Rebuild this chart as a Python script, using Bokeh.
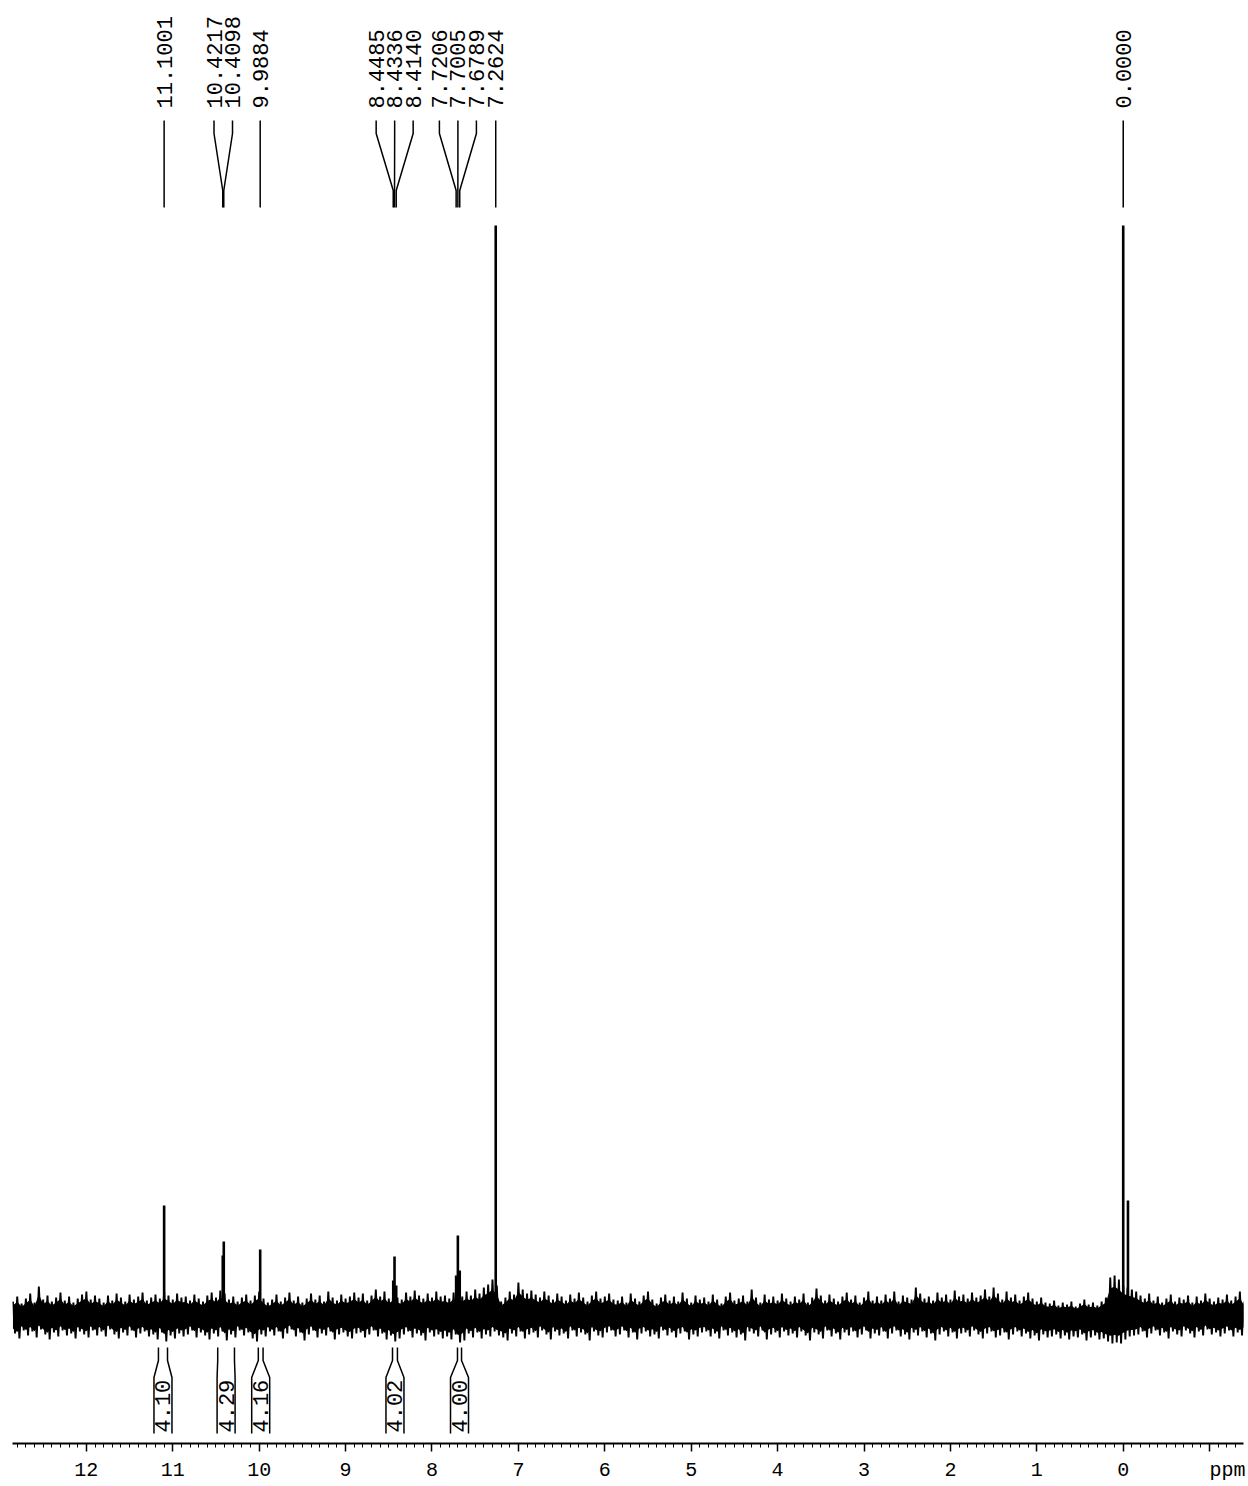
import numpy as np
from bokeh.plotting import figure
from bokeh.models import Range1d, SingleIntervalTicker
from bokeh.core.properties import value
from bokeh.embed import file_html
from bokeh.resources import INLINE

# ---- 1H NMR data (chemical shift in ppm, intensity in arbitrary units) ----
peak_ppm = [11.1001, 10.4217, 10.4098, 9.9884, 8.4485, 8.4336, 8.4140,
            7.7206, 7.7005, 7.6789, 7.2624, 0.0000]
peak_height = [110, 60, 74, 66, 35, 59, 30, 40, 80, 45, 1090, 1090]

# unlabelled shoulder on the TMS line
shoulder_ppm = [-0.055]
shoulder_height = [115]

# integrated regions (ppm limits) and their integrals
integral_from = [11.166, 10.480, 10.010, 8.457, 7.705]
integral_to = [11.061, 10.286, 9.955, 8.400, 7.658]
integral_value = [4.10, 4.29, 4.16, 4.02, 4.00]

# baseline noise: upper / lower excursions sampled every 0.05 ppm from 12.85 ppm
noise_start = 12.85
noise_step = 0.05
noise_upper = [
    14, 19, 12, 17, 22, 13, 29, 16, 20, 14, 18, 23, 15, 19, 13, 17, 21, 24, 16, 20,
    17, 13, 20, 15, 22, 18, 14, 21, 16, 19, 23, 15, 18, 21, 17, 24, 20, 16, 22, 18,
    19, 15, 21, 17, 14, 20, 23, 18, 25, 22, 16, 19, 14, 18, 21, 15, 20, 24, 17, 13,
    16, 21, 14, 18, 23, 15, 19, 13, 17, 22, 16, 20, 14, 24, 18, 15, 21, 17, 19, 23,
    18, 22, 15, 20, 26, 19, 24, 17, 21, 18, 16, 23, 19, 25, 20, 17, 22, 18, 24, 19,
    20, 17, 23, 21, 19, 24, 20, 26, 22, 28, 31, 36, 30, 14, 18, 24, 21, 33, 26, 22,
    25, 21, 18, 24, 20, 16, 22, 19, 15, 21, 17, 23, 18, 14, 20, 24, 17, 19, 22, 16,
    15, 19, 13, 22, 17, 14, 20, 24, 16, 12, 18, 21, 15, 19, 14, 23, 17, 13, 20, 16,
    18, 14, 21, 16, 12, 19, 23, 15, 17, 20, 14, 26, 18, 13, 21, 16, 19, 15, 22, 17,
    14, 19, 16, 22, 13, 18, 27, 20, 15, 21, 17, 14, 19, 23, 16, 20, 13, 18, 24, 15,
    19, 15, 21, 17, 24, 14, 20, 18, 16, 28, 22, 17, 19, 15, 23, 18, 21, 16, 25, 19,
    21, 17, 23, 18, 20, 26, 19, 28, 22, 16, 24, 18, 21, 15, 19, 23, 17, 14, 18, 13,
    12, 15, 10, 13, 11, 14, 9, 12, 16, 11, 13, 10, 14, 18, 38, 40, 36, 30, 28, 26,
    24, 20, 17, 22, 15, 19, 13, 17, 21, 14, 18, 16, 20, 13, 19, 15, 22, 17, 14, 18,
    16, 21, 15, 19, 24, 14,
]
noise_lower = [
    -18, -23, -15, -20, -16, -22, -14, -19, -24, -17, -21, -15, -20, -18, -23, -16, -19, -22, -15, -20,
    -16, -21, -14, -19, -23, -17, -20, -15, -22, -18, -16, -21, -19, -24, -17, -26, -20, -23, -18, -21,
    -19, -15, -22, -17, -20, -24, -18, -21, -16, -25, -19, -22, -15, -20, -17, -23, -26, -19, -21, -16,
    -20, -16, -23, -18, -14, -21, -17, -25, -19, -15, -22, -18, -20, -16, -24, -19, -17, -21, -23, -18,
    -17, -22, -19, -15, -21, -18, -24, -20, -26, -23, -19, -16, -22, -18, -20, -25, -17, -21, -19, -23,
    -21, -24, -19, -27, -25, -18, -22, -17, -23, -19, -21, -16, -20, -22, -25, -18, -21, -16, -23, -19,
    -17, -22, -15, -19, -24, -16, -20, -18, -23, -15, -21, -17, -19, -25, -16, -20, -22, -17, -15, -21,
    -19, -15, -22, -17, -24, -18, -16, -21, -19, -23, -15, -20, -17, -22, -18, -16, -24, -19, -21, -17,
    -16, -21, -18, -23, -15, -20, -17, -22, -19, -25, -16, -18, -21, -15, -24, -19, -17, -22, -16, -20,
    -18, -22, -16, -20, -25, -17, -19, -23, -15, -21, -18, -24, -17, -20, -16, -22, -19, -15, -23, -18,
    -20, -16, -23, -18, -15, -21, -19, -24, -17, -20, -16, -22, -18, -25, -19, -16, -21, -17, -23, -18,
    -17, -21, -15, -19, -23, -18, -16, -22, -20, -17, -24, -19, -16, -21, -18, -23, -20, -25, -19, -22,
    -21, -19, -23, -20, -24, -21, -22, -19, -25, -22, -20, -24, -23, -26, -28, -27, -28, -24, -21, -20,
    -19, -16, -22, -18, -15, -20, -17, -23, -16, -19, -21, -15, -18, -22, -16, -20, -14, -19, -17, -21,
    -18, -15, -21, -17, -20, -16,
]

# ---- layout ----
W, H = 1248, 1486
LEFT, RIGHT, BOTTOM = 12, 5, 43
X_START, X_END = 12.855, -1.392          # reversed ppm axis
BASE_ROW = 1315                          # canvas row of the zero-intensity line
FRAME_H = H - BOTTOM
PPM_PER_PX = (X_START - X_END) / (W - LEFT - RIGHT)
FONT = "Liberation Mono"


def row(r):
    """canvas row -> intensity coordinate"""
    return BASE_ROW - r


p = figure(width=W, height=H, output_backend="svg", toolbar_location=None,
           x_range=Range1d(X_START, X_END),
           y_range=Range1d(row(FRAME_H), row(0)),
           y_axis_location=None,
           min_border_left=LEFT, min_border_right=RIGHT,
           min_border_top=0, min_border_bottom=BOTTOM)
p.outline_line_color = None
p.xgrid.visible = False
p.ygrid.visible = False
p.background_fill_color = "white"
p.border_fill_color = "white"

# ---- spectrum: noisy baseline ----
noise_ppm = noise_start - noise_step * np.arange(len(noise_upper))
up = np.array(noise_upper, dtype=float)
lo = np.array(noise_lower, dtype=float)
# solid core of the noise band
p.varea(x=noise_ppm, y1=0.72 * lo, y2=0.72 * up, fill_color="black")
# trace swinging between the upper and lower excursions
zx = np.empty(2 * len(noise_ppm))
zy = np.empty(2 * len(noise_ppm))
zx[0::2] = noise_ppm
zx[1::2] = noise_ppm - noise_step / 2
zy[0::2] = up
zy[1::2] = lo
p.line(x=zx, y=zy, line_color="black", line_width=1.9)

# ---- spectrum: resonances ----
p.segment(x0=peak_ppm, y0=[0] * len(peak_ppm), x1=peak_ppm, y1=peak_height,
          line_color="black", line_width=2.6)
p.segment(x0=shoulder_ppm, y0=[0] * len(shoulder_ppm), x1=shoulder_ppm,
          y1=shoulder_height, line_color="black", line_width=2.6)

# ---- peak labels with fanned connectors ----
gap = 18.5 * PPM_PER_PX
order = sorted(range(len(peak_ppm)), key=lambda i: -peak_ppm[i])
groups = [[i] for i in order]


def placed(g):
    c = sum(peak_ppm[i] for i in g) / len(g)
    n = len(g)
    return [c - gap * (k - (n - 1) / 2) for k in range(n)]


merged = True
while merged:
    merged = False
    for j in range(len(groups) - 1):
        if placed(groups[j])[-1] - placed(groups[j + 1])[0] < gap - 1e-9:
            groups[j] = groups[j] + groups[j + 1]
            del groups[j + 1]
            merged = True
            break

label_x = {}
for g in groups:
    for i, xv in zip(g, placed(g)):
        label_x[i] = xv

xs, ys, lx, ltxt = [], [], [], []
for i, pk in enumerate(peak_ppm):
    xl = label_x[i]
    xs.append([xl, xl, pk, pk])
    ys.append([row(120), row(133), row(190), row(207)])
    lx.append(xl)
    ltxt.append(f"{pk:.4f}")
p.multi_line(xs=xs, ys=ys, line_color="black", line_width=1.5)
p.text(x=lx, y=[row(108)] * len(lx), text=ltxt, angle=np.pi / 2,
       text_align="left", text_baseline="middle", text_font=value(FONT),
       text_font_size="22px", text_color="black")

# ---- integral brackets ----
half_min = 9 * PPM_PER_PX
bx, by, ix, itxt = [], [], [], []
for a, b, v in zip(integral_from, integral_to, integral_value):
    mid = (a + b) / 2
    half = max(half_min, (a - b) / 2)
    yy = [row(1347), row(1360), row(1377), row(1433)]
    bx.append([a, a, mid + half, mid + half])
    by.append(yy)
    bx.append([b, b, mid - half, mid - half])
    by.append(yy)
    ix.append(mid)
    itxt.append(f"{v:.2f}")
p.multi_line(xs=bx, ys=by, line_color="black", line_width=1.5)
p.text(x=ix, y=[row(1432)] * len(ix), text=itxt, angle=np.pi / 2,
       text_align="left", text_baseline="middle", text_font=value(FONT),
       text_font_size="22px", text_color="black")

# ---- ppm axis ----
ax = p.xaxis[0]
ax.ticker = SingleIntervalTicker(interval=1, num_minor_ticks=10)
ax.axis_line_width = 2
ax.axis_line_color = "black"
ax.major_tick_line_color = "black"
ax.major_tick_line_width = 1.5
ax.major_tick_out = 8
ax.major_tick_in = 0
ax.minor_tick_line_color = "black"
ax.minor_tick_line_width = 1
ax.minor_tick_out = 4
ax.minor_tick_in = 0
ax.major_label_standoff = 7
ax.major_label_text_font = FONT
ax.major_label_text_font_size = "20px"
ax.major_label_text_color = "black"
# unit name sits just right of the last (unlabelled) major tick
ax.major_label_overrides = {-1: "\u00a0\u00a0\u00a0ppm"}

open("out.html", "w").write(file_html(p, INLINE))
